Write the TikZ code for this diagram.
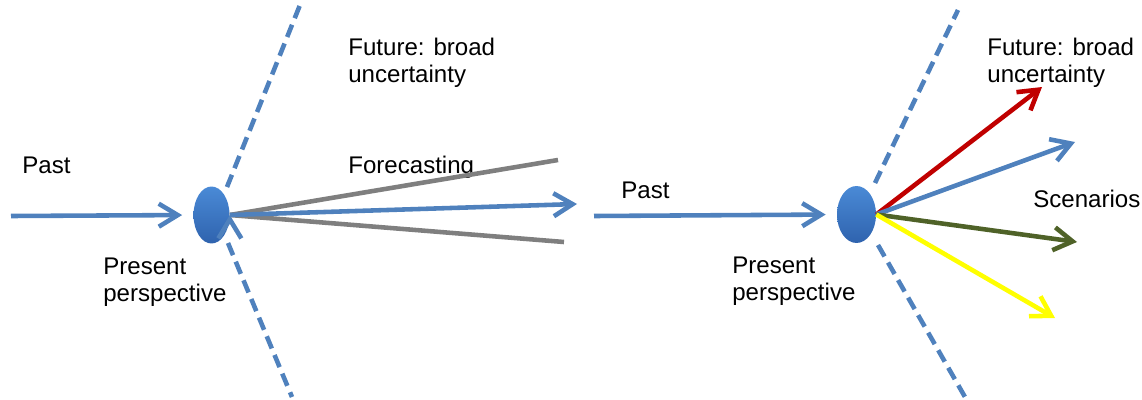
\documentclass[tikz,border=0pt]{standalone}
\usepackage{fontspec}
\setmainfont{Liberation Sans}
\usetikzlibrary{arrows.meta, positioning, shapes.geometric}
\definecolor{lineblue}{HTML}{4F81BD}
\definecolor{dotblue}{HTML}{2F63AE}
\definecolor{dotlight}{HTML}{4A8AD6}
\definecolor{linegray}{HTML}{7F7F7F}
\definecolor{scenred}{HTML}{C00000}
\definecolor{scengreen}{HTML}{4F6228}
\definecolor{scenyellow}{HTML}{FFFF00}

\begin{document}
\begin{tikzpicture}[x=0.02cm, y=-0.02cm,
			every node/.style = {font=\fontsize{13.7}{15.3}\selectfont},
			txt/.style = {anchor=base west, inner sep=0pt, align=left},
			present/.style = {ellipse, inner sep=0pt, minimum width=0.72cm,
				minimum height=1.14cm, top color=dotlight, bottom color=dotblue},
			arr/.style = {line width=2.6pt,
				-{Straight Barb[length=0.38cm, width=0.46cm, line width=2.6pt]}},
			dashline/.style = {draw=lineblue, line width=2.6pt,
				dash pattern=on 7.5pt off 4pt}
			]
			\useasboundingbox (0,0) rectangle (1142,399);

			% forecasting side
			\node (presL) [present] at (211.5,215) {};
			\coordinate (pastL) at (11,216);
			\coordinate (dashTopL0) at (227,187);
			\coordinate (dashTopL) at (300,5);
			\coordinate (dashBotL0) at (228,243);
			\coordinate (dashBotL) at (292,397);
			\coordinate (fcUp) at (558,160);
			\coordinate (fcMid) at (577,204);
			\coordinate (fcDown) at (564,242);

			\node (pastTxtL) [txt] at (22,173) {Past};
			\node (fcTxt) [txt] at (348,173) {Forecasting};
			\node (futTxtL) [txt] at (348,82) {Future: broad\\uncertainty};
			\node (presTxtL) [txt] at (103,301) {Present\\perspective};

			\path [dashline]
			(dashTopL0) edge (dashTopL)
			(dashBotL0) edge (dashBotL);
			\path [draw = linegray, line width=2.6pt]
			(presL.east) edge (fcUp)
			(presL.east) edge (fcDown);
			\path [arr, draw = lineblue]
			(pastL) edge [shorten >=0.22cm] (presL.west)
			(presL.east) edge (fcMid);

			% scenario side
			\node (presR) [present, minimum width=0.78cm] at (856.5,214.5) {};
			\coordinate (pastR) at (594,216);
			\coordinate (dashTopR0) at (875,183);
			\coordinate (dashTopR) at (958,10);
			\coordinate (dashBotR0) at (878,245);
			\coordinate (dashBotR) at (965,397);
			\coordinate (scRed) at (1042,87);
			\coordinate (scBlue) at (1075,142);
			\coordinate (scGreen) at (1077,242);
			\coordinate (scYellow) at (1055,318);

			\node (pastTxtR) [txt] at (621,198) {Past};
			\node (futTxtR) [txt] at (987,82) {Future: broad\\uncertainty};
			\node (scenTxt) [txt] at (1033,207) {Scenarios};
			\node (presTxtR) [txt] at (732,300) {Present\\perspective};

			\path [dashline]
			(dashTopR0) edge (dashTopR)
			(dashBotR0) edge (dashBotR);
			\path [arr]
			(pastR) edge [draw = lineblue, shorten >=0.22cm] (presR.west)
			(presR.east) edge [draw = scenred] (scRed)
			(presR.east) edge [draw = lineblue] (scBlue)
			(presR.east) edge [draw = scengreen] (scGreen)
			(presR.east) edge [draw = scenyellow] (scYellow);
		\end{tikzpicture}
\end{document}
